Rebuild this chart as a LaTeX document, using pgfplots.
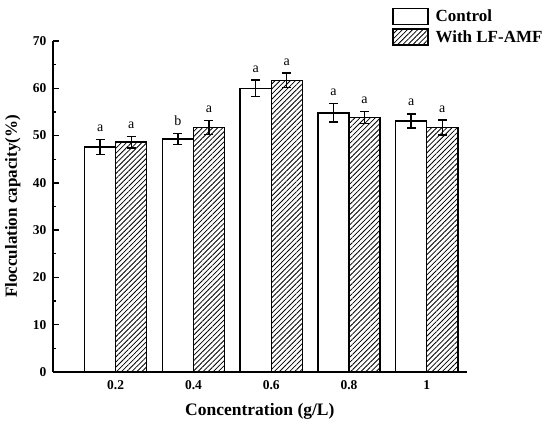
\documentclass[border=0pt]{standalone}
\usepackage{pgfplots}
\pgfplotsset{compat=1.18}
\usepackage{pgfplotstable}
\usepackage{fontspec}
\setmainfont{Liberation Serif}
\usetikzlibrary{patterns.meta}

\pgfplotsset{boxlegend/.style={legend image code/.code={\draw[##1] (0pt,-8pt) rectangle (35pt,8pt);}}}

\pgfplotstableread{
x  y     err   lab
0  47.6  1.55  a
1  49.3  1.15  b
2  60.0  1.75  a
3  54.8  1.95  a
4  53.1  1.50  a
}\control
\pgfplotstableread{
x  y     err   lab
0  48.6  1.20  a
1  51.7  1.50  a
2  61.7  1.50  a
3  53.8  1.30  a
4  51.7  1.55  a
}\treated

\begin{document}
\begin{tikzpicture}
\path[use as bounding box] (-53pt,-55pt) rectangle (497pt,372pt);
\begin{axis}[
  at={(0pt,0pt)}, anchor=south west,
  scale only axis,
  width=413.7pt, height=331pt,
  xmin=-0.806, xmax=4.514,
  ymin=0, ymax=70,
  axis x line*=bottom, axis y line*=left,
  axis line style={line width=1.4pt},
  xtick={0,1,2,3,4},
  xticklabels={0.2,0.4,0.6,0.8,1},
  xtick style={draw=none},
  ytick={0,10,...,70},
  minor y tick num=1,
  ytick style={line width=1.4pt, black},
  major tick length=6pt, minor tick length=3.5pt,
  /pgf/number format/assume math mode=true,
  ticklabel style={font=\bfseries\fontsize{13.5}{15}\selectfont},
  yticklabel style={xshift=-3pt},
  xticklabel style={yshift=-5pt},
  xlabel={Concentration (g/L)},
  ylabel={Flocculation capacity(\%)},
  xlabel style={font=\bfseries\fontsize{17.5}{20}\selectfont,
    at={(axis description cs:0.5,0)}, anchor=base, yshift=-43.7pt},
  ylabel style={font=\bfseries\fontsize{17}{20}\selectfont,
    at={(axis description cs:0,0.5)}, anchor=base, yshift=36pt},
  legend style={at={(rel axis cs:0.8195,1.1006)}, anchor=north west,
    draw=none, fill=none, inner sep=0pt,
    font=\bfseries\fontsize{17}{20}\selectfont,
    row sep=3pt, column sep=5pt,
    nodes={inner sep=2pt}},
  legend cell align=left,
]
\addplot[ybar, bar width=0.4, bar shift=0pt, draw=black, fill=white, line width=1.4pt,
  boxlegend,
  error bars/.cd, y dir=both, y explicit,
  error bar style={line width=1.4pt, black},
  error mark=-,
  error mark options={rotate=90, line width=1.4pt, black, mark size=4.5pt}]
  table[x expr=\thisrow{x}-0.2, y=y, y error=err] {\control};
\addlegendentry{Control}
\addplot[ybar, bar width=0.4, bar shift=0pt, draw=black, line width=1.4pt,
  pattern={Lines[angle=45, distance=3.6pt, line width=0.8pt]},
  boxlegend,
  error bars/.cd, y dir=both, y explicit,
  error bar style={line width=1.4pt, black},
  error mark=-,
  error mark options={rotate=90, line width=1.4pt, black, mark size=4.5pt}]
  table[x expr=\thisrow{x}+0.2, y=y, y error=err] {\treated};
\addlegendentry{With LF-AMF}
\addplot[forget plot, draw=none, mark=none, nodes near coords, point meta=explicit symbolic,
  nodes near coords style={anchor=base, inner sep=0pt, yshift=8pt, text=black,
    font=\fontsize{14}{16}\selectfont}]
  table[x expr=\thisrow{x}-0.2, y expr=\thisrow{y}+\thisrow{err}, meta=lab] {\control};
\addplot[forget plot, draw=none, mark=none, nodes near coords, point meta=explicit symbolic,
  nodes near coords style={anchor=base, inner sep=0pt, yshift=8pt, text=black,
    font=\fontsize{14}{16}\selectfont}]
  table[x expr=\thisrow{x}+0.2, y expr=\thisrow{y}+\thisrow{err}, meta=lab] {\treated};
\end{axis}
\end{tikzpicture}
\end{document}
